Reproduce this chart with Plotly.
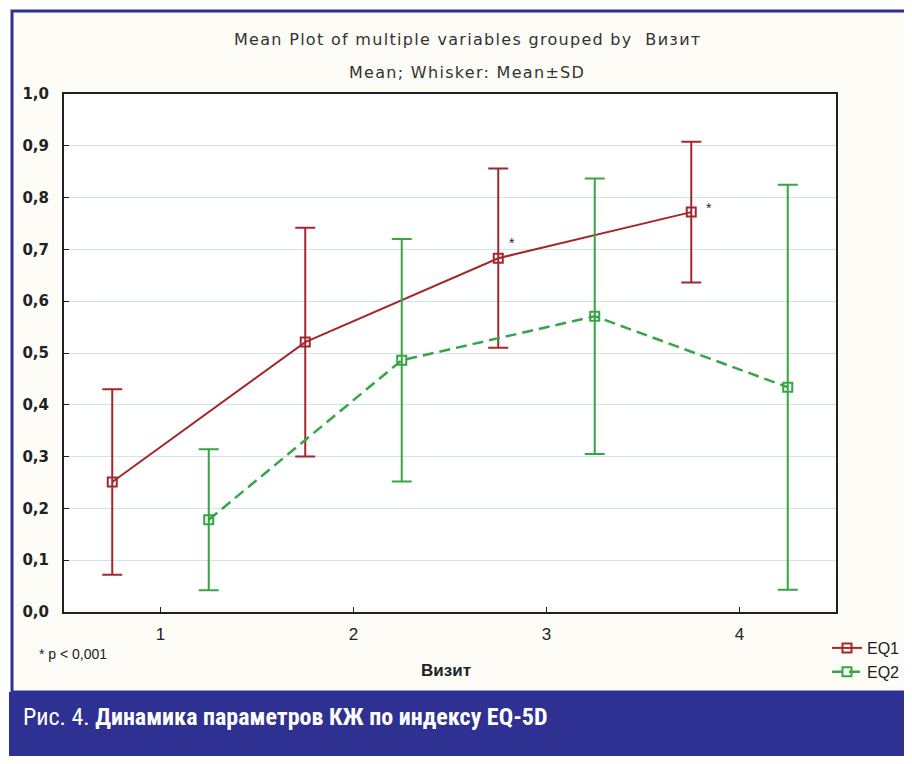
import plotly.graph_objects as go

# ---- data ----
visits = [1, 2, 3, 4]
visit_labels = ["1", "2", "3", "4"]
eq1_x = [0.75, 1.75, 2.75, 3.75]
eq1_mean = [0.251, 0.521, 0.683, 0.772]
eq1_sd = [0.179, 0.221, 0.173, 0.136]
eq2_x = [1.25, 2.25, 3.25, 4.25]
eq2_mean = [0.178, 0.486, 0.571, 0.434]
eq2_sd = [0.136, 0.234, 0.266, 0.391]
sig_x = [2.82, 3.84]
sig_y = [0.712, 0.78]
y_ticks = [0.0, 0.1, 0.2, 0.3, 0.4, 0.5, 0.6, 0.7, 0.8, 0.9, 1.0]
y_tick_labels = ["0,0", "0,1", "0,2", "0,3", "0,4", "0,5", "0,6", "0,7", "0,8", "0,9", "1,0"]

RED = "#a2282c"
GREEN = "#35a545"
BLUE = "#2e3192"
CREAM = "#fdfcf7"
INK = "#222222"

# page body margin offset (the figure starts 8px in from the window corner)
OFF = 8
W, H = 912 - OFF, 764 - 2 * OFF
L, R, T, B = 64 - OFF, 836 - OFF, 94 - OFF, 612 - OFF


def px(xp):
    return (xp - OFF - L) / (R - L)


def py(yp):
    return (B - (yp - OFF)) / (B - T)


fig = go.Figure()
fig.add_trace(go.Scatter(
    x=eq1_x, y=eq1_mean, name="EQ1", mode="lines+markers",
    line=dict(color=RED, width=2),
    marker=dict(symbol="square-open", size=9, color=RED, line=dict(width=2)),
    error_y=dict(type="data", array=eq1_sd, color=RED, thickness=2, width=10),
))
fig.add_trace(go.Scatter(
    x=eq2_x, y=eq2_mean, name="EQ2", mode="lines+markers",
    line=dict(color=GREEN, width=2.5, dash="11px,6px"),
    marker=dict(symbol="square-open", size=9, color=GREEN, line=dict(width=2)),
    error_y=dict(type="data", array=eq2_sd, color=GREEN, thickness=2, width=10),
))

shapes = [
    dict(type="rect", xref="paper", yref="paper", x0=px(12), x1=px(940), y0=py(692), y1=py(11),
         fillcolor=CREAM, line=dict(color=BLUE, width=3), layer="below"),
    dict(type="rect", xref="paper", yref="paper", x0=0, x1=1, y0=0, y1=1,
         fillcolor="white", line=dict(width=0), layer="below"),
    dict(type="rect", xref="paper", yref="paper", x0=px(9), x1=px(940), y0=py(790), y1=py(692),
         fillcolor=BLUE, line=dict(width=0), layer="below"),
]

title_font = dict(size=16, color="#333333", family="DejaVu Sans, sans-serif")
annotations = [
    dict(text="<span style='letter-spacing:1.3px'>Mean Plot of multiple variables grouped by  Визит</span>",
         xref="paper", yref="paper", x=px(467), y=py(40), yanchor="middle", showarrow=False, font=title_font),
    dict(text="<span style='letter-spacing:1.3px'>Mean; Whisker: Mean±SD</span>",
         xref="paper", yref="paper", x=px(467), y=py(72), yanchor="middle", showarrow=False, font=title_font),
    dict(text="* p < 0,001", xref="paper", yref="paper", x=px(37), y=py(654),
         xanchor="left", yanchor="middle", showarrow=False, font=dict(size=14, color=INK)),
    dict(text="Визит", xref="paper", yref="paper", x=px(446), y=py(671), yanchor="middle", showarrow=False,
         font=dict(size=17, color=INK, weight="bold")),
    dict(text="Рис. 4. <b>Динамика параметров КЖ по индексу EQ-5D</b>", xref="paper", yref="paper",
         x=px(21), y=py(717), xanchor="left", yanchor="middle", showarrow=False,
         font=dict(size=24, color="white", family="Roboto Condensed, DejaVu Sans Condensed, sans-serif")),
]
for sx, sy in zip(sig_x, sig_y):
    annotations.append(dict(text="*", x=sx, y=sy, xref="x", yref="y", showarrow=False,
                            font=dict(size=14, color="#222244")))

fig.update_layout(
    width=W, height=H,
    margin=dict(l=L, r=W - R, t=T, b=H - B, pad=0, autoexpand=False),
    paper_bgcolor="white", plot_bgcolor="white",
    font=dict(family="Liberation Sans, Arial, sans-serif", color=INK),
    showlegend=True,
    legend=dict(x=px(827), y=py(631), xanchor="left", yanchor="top",
                bgcolor="rgba(0,0,0,0)", font=dict(size=16, color=INK),
                tracegroupgap=0, itemwidth=30),
    shapes=shapes, annotations=annotations,
)
fig.update_xaxes(
    range=[0.5, 4.5], tickvals=visits, ticktext=visit_labels,
    showgrid=False, zeroline=False, showline=True, mirror=True, linecolor=INK, linewidth=2,
    ticks="inside", ticklen=5, tickcolor=INK, ticklabelstandoff=6,
    tickfont=dict(size=17, color=INK),
)
fig.update_yaxes(
    range=[0, 1], tickvals=y_ticks, ticktext=y_tick_labels,
    showgrid=True, gridcolor="#d3e2e8", gridwidth=1, zeroline=False,
    showline=True, mirror=True, linecolor=INK, linewidth=2,
    ticks="inside", ticklen=5, tickcolor=INK, ticklabelstandoff=10,
    tickfont=dict(size=15, color=INK, weight="bold", family="DejaVu Sans, sans-serif"),
)

fig.write_html("out.html")
